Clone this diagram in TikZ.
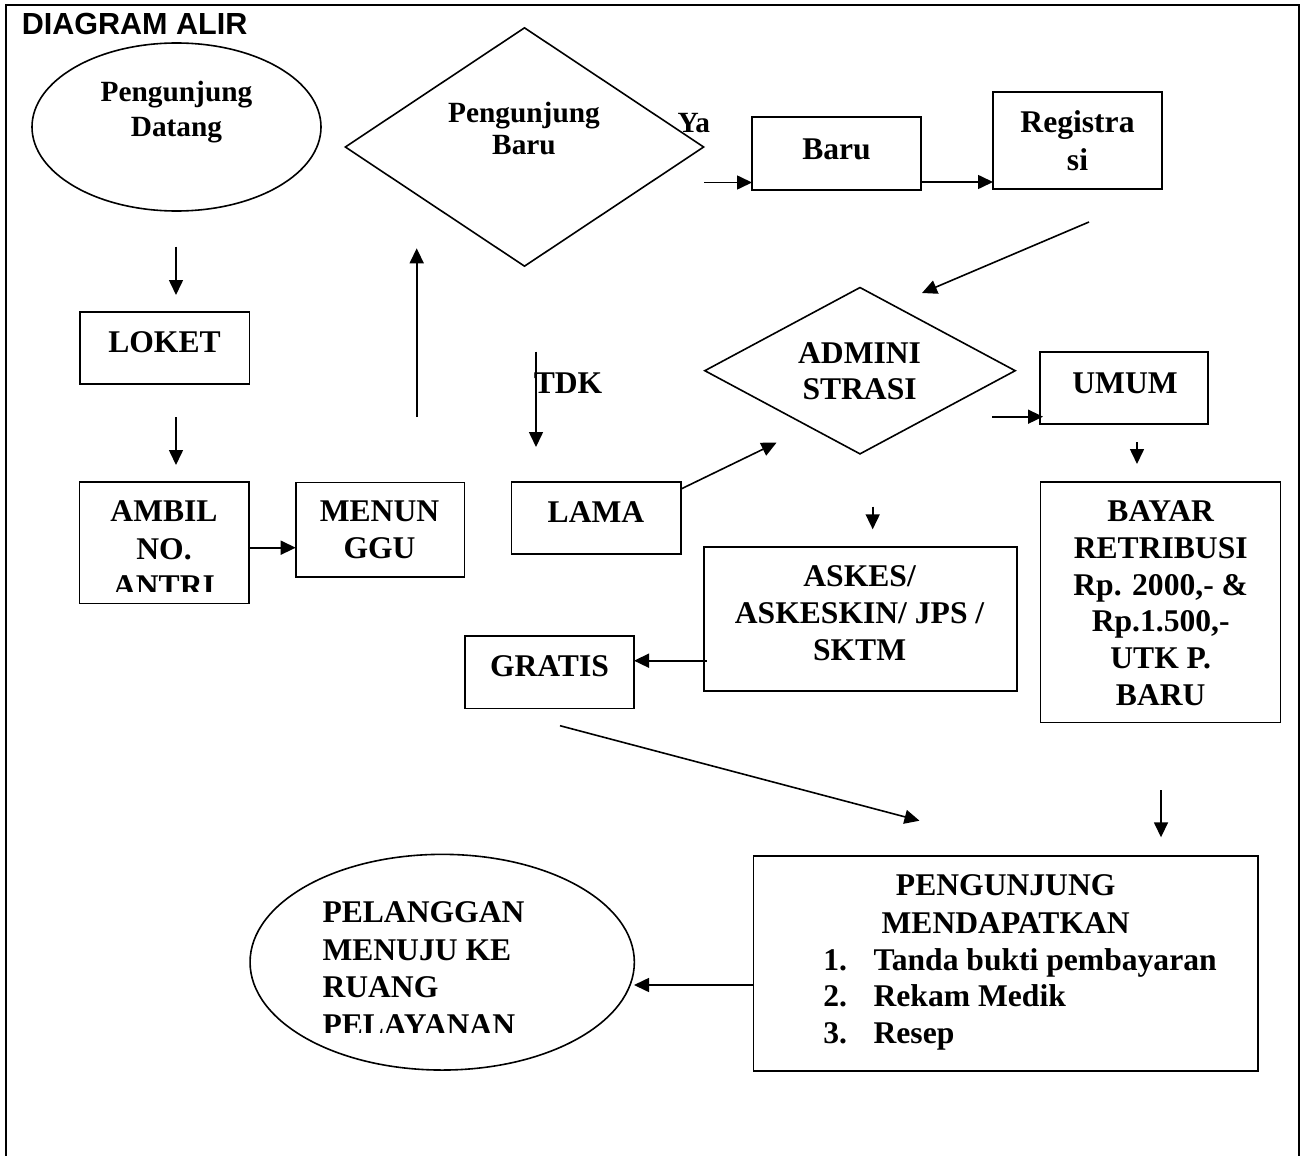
\documentclass[tikz,border=0pt]{standalone}
\usepackage{fontspec}
\setmainfont{Liberation Serif}
\newfontfamily\titlefont{Liberation Sans}
\usetikzlibrary{shapes.geometric,arrows.meta}

% stacked lines whose baseline is the first line
\newcommand\stackc[1]{\begin{tabular}[t]{@{}c@{}}#1\end{tabular}}
\newcommand\stackl[1]{\begin{tabular}[t]{@{}l@{}}#1\end{tabular}}

\begin{document}
\begin{tikzpicture}[x=0.75pt,y=-0.75pt,line width=1.2pt,
  big/.style={font=\bfseries\fontsize{23.7}{27.5}\selectfont},
  small/.style={font=\bfseries\fontsize{22}{26.25}\selectfont},
  txt/.style={inner sep=0pt,anchor=base},
  boxshape/.style 2 args={draw,rectangle,inner sep=0pt,
    minimum width=#1*0.75pt,minimum height=#2*0.75pt},
  ellshape/.style 2 args={draw,ellipse,inner sep=0pt,
    minimum width=#1*0.75pt,minimum height=#2*0.75pt},
  diashape/.style 2 args={draw,diamond,inner sep=0pt,
    minimum width=#1*0.75pt,minimum height=#2*0.75pt},
  arr/.style={-{Triangle[length=11.25pt,width=10.5pt]}}]

\useasboundingbox (0,0) rectangle (1303,1156);

% page frame, open at the bottom
\draw[line width=1.75pt] (6,1160) -- (6,5) -- (1299,5) -- (1299,1160);

% title
\node[inner sep=0pt,anchor=base west,font=\titlefont\bfseries\fontsize{22.9}{26}\selectfont]
  (title) at (21,34.3) {DIAGRAM ALIR};

% ---------- shapes ----------
\node[ellshape={289}{168}] (datang) at (176.5,127) {};
\node[diashape={359}{239}] (baruq) at (524.5,147) {};
\node[boxshape={169}{73}] (baru) at (836.5,153.5) {};
\node[boxshape={169}{97}] (regis) at (1077.5,140.5) {};
\node[boxshape={169.3}{72.3}] (loket) at (164.7,347.9) {};
\node[boxshape={169.4}{121.6}] (ambil) at (164,542.5) {};
\node[boxshape={168.6}{94.4}] (tunggu) at (380,529.5) {};
\node[boxshape={169.3}{72}] (lama) at (596.3,518) {};
\node[diashape={311}{167}] (admin) at (860,370.7) {};
\node[boxshape={168}{72}] (umum) at (1124,388) {};
\node[boxshape={240.3}{240.6}] (bayar) at (1160.5,602) {};
\node[boxshape={313}{144}] (askes) at (860.3,618.7) {};
\node[boxshape={169}{72.6}] (gratis) at (549.5,672) {};
\node[boxshape={504.7}{215}] (dapat) at (1005.7,963.2) {};
\node[ellshape={384.3}{215.7}] (pelanggan) at (442.2,962.2) {};

% ---------- texts ----------
\node[txt,small] (datangtxt) at (176.5,101.5) {\stackc{Pengunjung\\Datang}};
\node[txt,font=\bfseries\fontsize{22}{23.7}\selectfont] (baruqtxt) at (524,122.5) {\stackc{Pengunjung\\Baru}};
\node[txt,small,anchor=base west] (ya) at (676.7,132.5) {Ya};
\node[txt,big] (barutxt) at (836.5,159) {Baru};
\node[txt,font=\bfseries\fontsize{23.7}{28.1}\selectfont] (registxt) at (1077.5,132.7) {\stackc{Registra\\si}};
\node[txt,big] (lokettxt) at (164.5,352.7) {LOKET};
\begin{scope}
  \clip (60,470) rectangle (270,591.7);
  \node[txt,font=\bfseries\fontsize{23.7}{28.1}\selectfont] (ambiltxt) at (164,521.7) {\stackc{AMBIL\\NO.\\ANTRI}};
\end{scope}
\node[txt,big] (tunggutxt) at (379.5,521.7) {\stackc{MENUN\\GGU}};
\node[txt,big,anchor=base west] (tdk) at (533,393.3) {TDK};
\node[txt,big] (lamatxt) at (596,522.7) {LAMA};
\node[txt,big] (admintxt) at (859.6,363.3) {\stackc{ADMINI\\STRASI}};
\node[txt,big] (umumtxt) at (1125,393) {UMUM};
\node[txt,big] (bayartxt) at (1160.7,521.7)
  {\stackc{BAYAR\\RETRIBUSI\\Rp. 2000,- \&\\Rp.1.500,-\\UTK P.\\BARU}};
\node[txt,big] (askestxt) at (859.6,586.7) {\stackc{ASKES/\\ASKESKIN/ JPS /\\SKTM}};
\node[txt,big] (gratistxt) at (549.5,676.7) {GRATIS};
\node[txt,font=\bfseries\fontsize{23.7}{28.7}\selectfont] (dapathead) at (1005.7,895)
  {\stackc{PENGUNJUNG\\MENDAPATKAN}};
\node[txt,big,anchor=base west] (dapatlist) at (822.6,970)
  {\begin{tabular}[t]{@{}p{37.7pt}@{}l@{}}1.&Tanda bukti pembayaran\\2.&Rekam Medik\\3.&Resep\end{tabular}};
\begin{scope}
  \clip (240,850) rectangle (640,1032);
  \node[txt,font=\bfseries\fontsize{23.7}{28.2}\selectfont,anchor=base west] (pelanggantxt) at (321.7,922.7)
    {\stackl{PELANGGAN\\MENUJU KE\\RUANG\\PELAYANAN}};
\end{scope}

% ---------- connector ends ----------
\coordinate (c1a) at (176,246.7);   \coordinate (c1b) at (176,295);
\coordinate (c2a) at (176,417.3);   \coordinate (c2b) at (176,465);
\coordinate (c3a) at (248.7,547.7); \coordinate (c3b) at (295.7,547.7);
\coordinate (c4a) at (416.7,417);   \coordinate (c4b) at (416.7,248.3);
\coordinate (c5a) at (704,182.5);   \coordinate (c5b) at (752,182.5);
\coordinate (c6a) at (921,182);     \coordinate (c6b) at (993,182);
\coordinate (c7a) at (1089,222);    \coordinate (c7b) at (922,293);
\coordinate (c8a) at (536,351.7);   \coordinate (c8b) at (536,447);
\coordinate (c9a) at (681,489);     \coordinate (c9b) at (776.5,442.7);
\coordinate (c10a) at (992,416.7);  \coordinate (c10b) at (1043,416.7);
\coordinate (c11a) at (1137,442);   \coordinate (c11b) at (1137,464);
\coordinate (c12a) at (872.7,506.7);\coordinate (c12b) at (872.7,529.3);
\coordinate (c13a) at (706.7,660.7);\coordinate (c13b) at (634,660.7);
\coordinate (c14a) at (560,725.7);  \coordinate (c14b) at (919.5,820.7);
\coordinate (c15a) at (1161,790);   \coordinate (c15b) at (1161,837.3);
\coordinate (c16a) at (753.3,985);  \coordinate (c16b) at (634,985);

% ---------- connectors ----------
\foreach \i in {1,...,16} \draw[arr] (c\i a) -- (c\i b);

\end{tikzpicture}
\end{document}
